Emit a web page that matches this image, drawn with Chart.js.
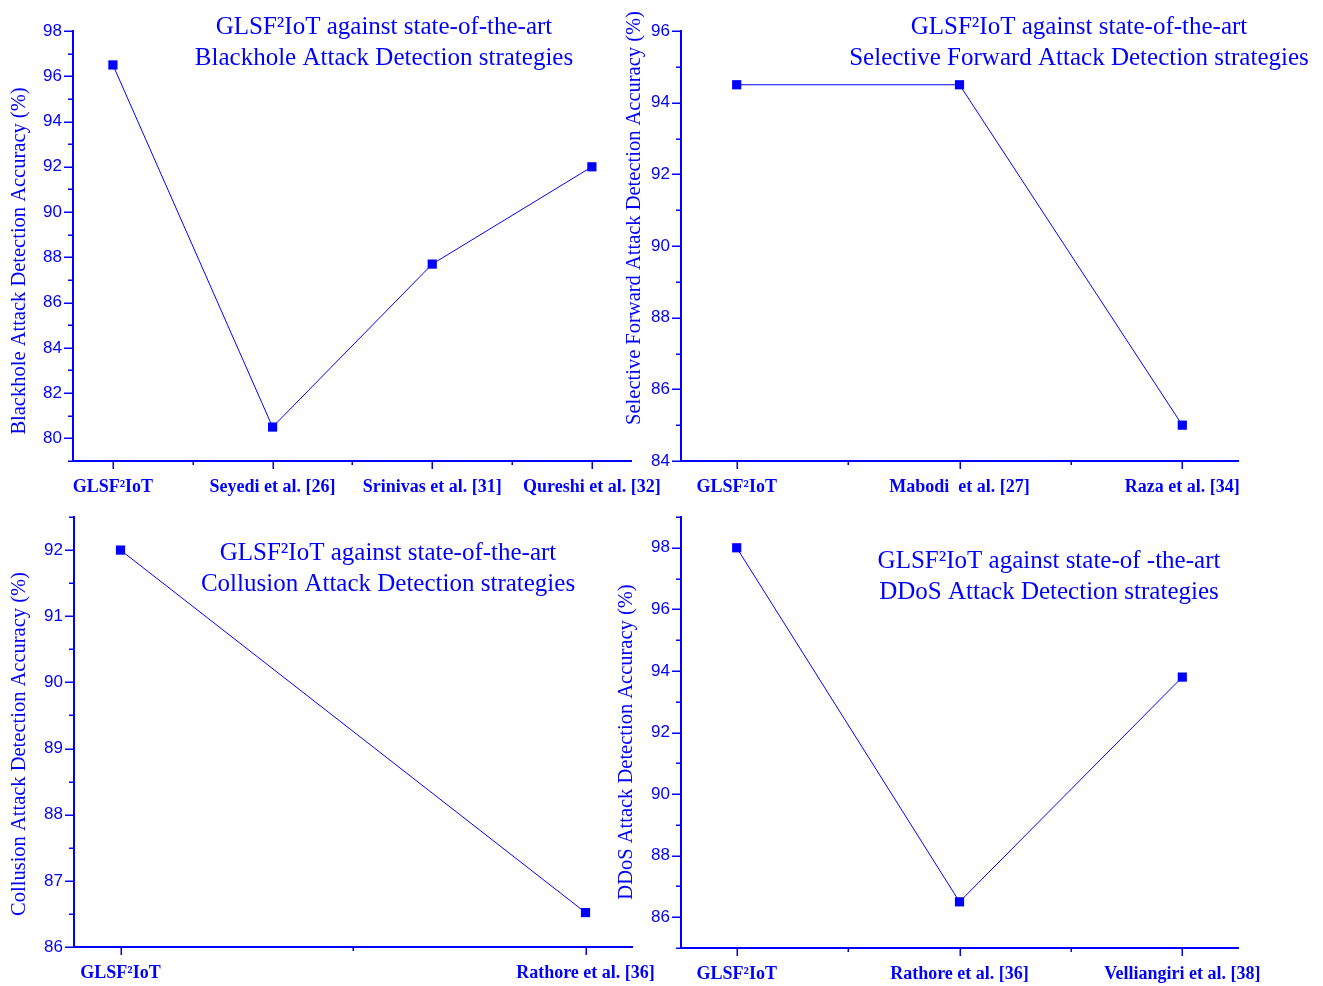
<!DOCTYPE html>
<html>
<head>
<meta charset="utf-8">
<title>GLSF²IoT attack detection accuracy</title>
<script src="https://cdn.jsdelivr.net/npm/chart.js@4.4.1/dist/chart.umd.min.js"></script>
<style>
  html, body { margin: 0; padding: 0; background: #ffffff; }
  #wrap { position: relative; width: 1323px; height: 986px; overflow: hidden; }
  .panel { position: absolute; }
  .panel canvas { display: block; }
</style>
</head>
<body>
<div id="wrap">
  <div class="panel" id="p1"><canvas id="c1"></canvas></div>
  <div class="panel" id="p2"><canvas id="c2"></canvas></div>
  <div class="panel" id="p3"><canvas id="c3"></canvas></div>
  <div class="panel" id="p4"><canvas id="c4"></canvas></div>
</div>
<script>
// ---- data ----
const blackholeMethods = ['GLSF²IoT', 'Seyedi et al. [26]', 'Srinivas et al. [31]', 'Qureshi et al. [32]'];
const blackholeAccuracy = [96.5, 80.5, 87.7, 92.0];

const selectiveMethods = ['GLSF²IoT', 'Mabodi  et al. [27]', 'Raza et al. [34]'];
const selectiveAccuracy = [94.5, 94.5, 85.0];

const collusionMethods = ['GLSF²IoT', 'Rathore et al. [36]'];
const collusionAccuracy = [92.0, 86.52];

const ddosMethods = ['GLSF²IoT', 'Rathore et al. [36]', 'Velliangiri et al. [38]'];
const ddosAccuracy = [98.0, 86.5, 93.8];

const blackholeTitle = ['GLSF²IoT against state-of-the-art', 'Blackhole Attack Detection strategies'];
const selectiveTitle = ['GLSF²IoT against state-of-the-art', 'Selective Forward Attack Detection strategies'];
const collusionTitle = ['GLSF²IoT against state-of-the-art', 'Collusion Attack Detection strategies'];
const ddosTitle = ['GLSF²IoT against state-of -the-art', 'DDoS Attack Detection strategies'];

const blackholeYLabel = 'Blackhole Attack Detection Accuracy (%)';
const selectiveYLabel = 'Selective Forward Attack Detection Accuracy (%)';
const collusionYLabel = 'Collusion Attack Detection Accuracy (%)';
const ddosYLabel = 'DDoS Attack Detection Accuracy (%)';

// ---- styling ----
const BLUE = '#0000ff';
const SERIF = '"Liberation Serif", "Times New Roman", Times, serif';
const SANS = '"Liberation Sans", Arial, Helvetica, sans-serif';
const X_AXIS_H = 38;

// Panel geometry (page pixels): canvas box, plot area, headings and y-title placement
const panels = [
  { id: 'c1', box: { left: 0, top: 0, w: 680, h: 505 },
    area: { left: 73, top: 31, right: 634, bottom: 461 },
    methods: blackholeMethods, values: blackholeAccuracy, title: blackholeTitle, yLabel: blackholeYLabel,
    y: { min: 79, max: 98, step: 1, major: 2 }, xPad: 0.25,
    head: { x: 384, y: [34, 65] }, yTitle: { x: 20, y: 261 } },
  { id: 'c2', box: { left: 610, top: 0, w: 713, h: 505 },
    area: { left: 681, top: 31, right: 1238, bottom: 461 },
    methods: selectiveMethods, values: selectiveAccuracy, title: selectiveTitle, yLabel: selectiveYLabel,
    y: { min: 84, max: 96, step: 1, major: 2 }, xPad: 0.25,
    head: { x: 1079, y: [34, 65] }, yTitle: { x: 635, y: 218 } },
  { id: 'c3', box: { left: 0, top: 493, w: 680, h: 493 },
    area: { left: 74, top: 517, right: 632, bottom: 947 },
    methods: collusionMethods, values: collusionAccuracy, title: collusionTitle, yLabel: collusionYLabel,
    y: { min: 86, max: 92.5, step: 0.5, major: 1 }, xPad: 0.1,
    head: { x: 388, y: [560, 591] }, yTitle: { x: 20, y: 744 } },
  { id: 'c4', box: { left: 610, top: 493, w: 713, h: 493 },
    area: { left: 681, top: 517, right: 1238, bottom: 948 },
    methods: ddosMethods, values: ddosAccuracy, title: ddosTitle, yLabel: ddosYLabel,
    y: { min: 85, max: 99, step: 1, major: 2 }, xPad: 0.25,
    head: { x: 1049, y: [568, 599] }, yTitle: { x: 627, y: 742 } }
];

function isMajor(v, major) {
  const r = v / major;
  return Math.abs(r - Math.round(r)) < 1e-6;
}

// Draws tick marks (major + minor), the two-line heading and the rotated y-axis title
const decorPlugin = {
  id: 'decor',
  afterDraw(chart, args, opts) {
    const p = opts.panel;
    const ctx = chart.ctx;
    const xs = chart.scales.x, ys = chart.scales.y;
    const area = chart.chartArea;
    ctx.save();
    ctx.strokeStyle = BLUE;
    ctx.lineWidth = 1.5;
    // y ticks
    ys.ticks.forEach(t => {
      const py = Math.round(ys.getPixelForValue(t.value)) + 0.25;
      const len = isMajor(t.value, p.y.major) ? 9 : 5;
      ctx.beginPath();
      ctx.moveTo(area.left - len, py);
      ctx.lineTo(area.left, py);
      ctx.stroke();
    });
    // x ticks: at each method and halfway between neighbours
    for (let i = 0; i < p.methods.length; i++) {
      const px = Math.round(xs.getPixelForValue(i)) + 0.25;
      ctx.beginPath();
      ctx.moveTo(px, area.bottom);
      ctx.lineTo(px, area.bottom + 8);
      ctx.stroke();
      if (i < p.methods.length - 1) {
        const mx = Math.round(xs.getPixelForValue(i + 0.5)) + 0.25;
        ctx.beginPath();
        ctx.moveTo(mx, area.bottom);
        ctx.lineTo(mx, area.bottom + 4);
        ctx.stroke();
      }
    }
    // heading
    ctx.fillStyle = BLUE;
    ctx.textAlign = 'center';
    ctx.textBaseline = 'alphabetic';
    ctx.font = '25px ' + SERIF;
    p.title.forEach((line, k) => {
      ctx.fillText(line, p.head.x - p.box.left, p.head.y[k] - p.box.top);
    });
    // y-axis title
    ctx.translate(p.yTitle.x - p.box.left, p.yTitle.y - p.box.top);
    ctx.rotate(-Math.PI / 2);
    ctx.font = '20.5px ' + SERIF;
    ctx.textBaseline = 'middle';
    ctx.fillText(p.yLabel, 0, 0);
    ctx.restore();
  }
};

panels.forEach(p => {
  const holder = document.getElementById(p.id).parentElement;
  holder.style.left = p.box.left + 'px';
  holder.style.top = p.box.top + 'px';
  holder.style.width = p.box.w + 'px';
  holder.style.height = p.box.h + 'px';
  const canvas = document.getElementById(p.id);
  canvas.width = p.box.w;
  canvas.height = p.box.h;

  const yAxisW = p.area.left - p.box.left;
  const padRight = p.box.w - (p.area.right - p.box.left);
  const padTop = p.area.top - p.box.top;
  const padBottom = p.box.h - (p.area.bottom - p.box.top) - X_AXIS_H;
  const points = p.values.map((v, i) => ({ x: i, y: v }));

  new Chart(canvas, {
    type: 'line',
    data: {
      datasets: [{
        data: points,
        borderColor: BLUE,
        backgroundColor: BLUE,
        borderWidth: 1,
        pointStyle: 'rect',
        pointRadius: 6.5,
        pointBorderWidth: 0,
        pointBackgroundColor: BLUE,
        tension: 0,
        fill: false,
        clip: false
      }]
    },
    options: {
      responsive: false,
      animation: false,
      devicePixelRatio: 1,
      events: [],
      layout: { padding: { top: padTop, right: padRight, bottom: padBottom, left: 0 } },
      plugins: {
        legend: { display: false },
        tooltip: { enabled: false },
        title: { display: false },
        decor: { panel: p }
      },
      scales: {
        x: {
          type: 'linear',
          min: -p.xPad,
          max: p.methods.length - 1 + p.xPad,
          afterBuildTicks: s => { s.ticks = p.methods.map((_, i) => ({ value: i })); },
          afterFit: s => { s.height = X_AXIS_H; },
          grid: { display: false, drawTicks: false },
          border: { display: true, color: BLUE, width: 2 },
          ticks: {
            autoSkip: false,
            maxRotation: 0,
            minRotation: 0,
            padding: 16,
            color: BLUE,
            font: { family: SERIF, size: 18, weight: 'bold' },
            callback: v => p.methods[Math.round(v)]
          }
        },
        y: {
          type: 'linear',
          min: p.y.min,
          max: p.y.max,
          afterFit: s => { s.width = yAxisW; },
          grid: { display: false, drawTicks: false },
          border: { display: true, color: BLUE, width: 2 },
          ticks: {
            stepSize: p.y.step,
            autoSkip: false,
            padding: 11,
            color: BLUE,
            font: { family: SANS, size: 17 },
            callback: v => isMajor(v, p.y.major) ? String(Math.round(v)) : ''
          }
        }
      }
    },
    plugins: [decorPlugin]
  });
});
</script>
</body>
</html>
